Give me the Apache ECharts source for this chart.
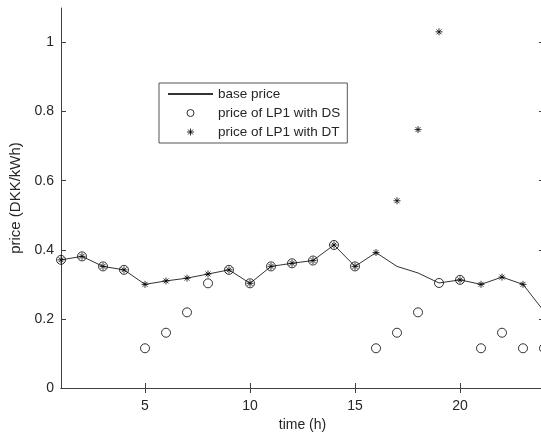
<!DOCTYPE html>
<html>
<head>
<meta charset="utf-8">
<script src="https://cdn.jsdelivr.net/npm/echarts@6/dist/echarts.min.js"></script>
<style>
  html, body { margin: 0; padding: 0; background: #fff; }
  #main { width: 541px; height: 434px; }
</style>
</head>
<body>
<div id="main"></div>
<script>
// hours 1..24
const hours = [1, 2, 3, 4, 5, 6, 7, 8, 9, 10, 11, 12, 13, 14, 15, 16, 17, 18, 19, 20, 21, 22, 23, 24];
const basePrice = [0.371, 0.381, 0.352, 0.342, 0.300, 0.310, 0.318, 0.330, 0.342, 0.303, 0.352, 0.361,
  0.369, 0.414, 0.352, 0.392, 0.352, 0.333, 0.304, 0.313, 0.300, 0.321, 0.300, 0.222];
const priceDS = [0.371, 0.381, 0.352, 0.342, 0.115, 0.160, 0.219, 0.303, 0.342, 0.303, 0.352, 0.361,
  0.369, 0.414, 0.352, 0.115, 0.160, 0.219, 0.304, 0.313, 0.115, 0.160, 0.115, 0.115];
const priceDT = [0.371, 0.381, 0.352, 0.342, 0.300, 0.310, 0.318, 0.330, 0.342, 0.303, 0.352, 0.361,
  0.369, 0.414, 0.352, 0.392, 0.542, 0.748, 1.031, 0.313, 0.300, 0.321, 0.300, null];
const xTicks = [5, 10, 15, 20];
const yTicks = [0, 0.2, 0.4, 0.6, 0.8, 1];
const legendNames = ["base price", "price of LP1 with DS", "price of LP1 with DT"];

const font = "'Liberation Sans', Arial, sans-serif";
const axisColor = "#404040";
const textColor = "#262626";
// matlab style '*' marker
const starPath = "path://M5,0L5,10M0,5L10,5M1.5,1.5L8.5,8.5M1.5,8.5L8.5,1.5";

function pairs(ys) {
  return hours.map((h, i) => [h, ys[i]]);
}

const chart = echarts.init(document.getElementById("main"), null, { renderer: "canvas" });

const boxAxis = {
  axisLine: { show: true, lineStyle: { color: axisColor, width: 1 } },
  axisTick: { show: true, inside: true, length: 5, lineStyle: { color: axisColor } },
  splitLine: { show: false },
};

const option = {
  animation: false,
  backgroundColor: "#fff",
  textStyle: { fontFamily: font },
  grid: { left: 61, top: 8, width: 483, bottom: 46, containLabel: false, outerBoundsMode: "none" },
  legend: {
    orient: "vertical",
    left: 159,
    top: 83,
    padding: [4, 7, 4, 8],
    itemGap: 5,
    itemWidth: 45,
    itemHeight: 7,
    borderColor: "#555",
    borderWidth: 1,
    backgroundColor: "#fff",
    selectedMode: false,
    textStyle: { color: textColor, fontSize: 13.5, lineHeight: 14, fontFamily: font },
    data: [
      { name: legendNames[0], itemStyle: { color: "rgba(0,0,0,0)", borderWidth: 0 } },
      { name: legendNames[1], itemStyle: { borderWidth: 1 } },
      { name: legendNames[2], itemStyle: { borderWidth: 1 } },
    ],
  },
  xAxis: [
    Object.assign({}, boxAxis, {
      type: "value",
      min: 1,
      max: 24,
      position: "bottom",
      name: "time (h)",
      nameLocation: "middle",
      nameGap: 30,
      nameTextStyle: { color: textColor, fontSize: 14, fontFamily: font },
      axisTick: Object.assign({}, boxAxis.axisTick, { customValues: xTicks }),
      axisLabel: { customValues: xTicks, color: textColor, fontSize: 14, margin: 11, fontFamily: font },
    }),
    Object.assign({}, boxAxis, {
      type: "value",
      min: 1,
      max: 24,
      position: "top",
      axisTick: Object.assign({}, boxAxis.axisTick, { customValues: xTicks }),
      axisLabel: { show: false },
    }),
  ],
  yAxis: [
    Object.assign({}, boxAxis, {
      type: "value",
      min: 0,
      max: 1.1,
      position: "left",
      name: "price (DKK/kWh)",
      nameLocation: "middle",
      nameGap: 28,
      nameTextStyle: { color: textColor, fontSize: 15, fontFamily: font },
      axisTick: Object.assign({}, boxAxis.axisTick, { customValues: yTicks }),
      axisLabel: {
        customValues: yTicks,
        color: textColor,
        fontSize: 14,
        margin: 7,
        fontFamily: font,
        formatter: (v) => String(+(+v).toFixed(1)),
      },
    }),
    Object.assign({}, boxAxis, {
      type: "value",
      min: 0,
      max: 1.1,
      position: "right",
      axisTick: Object.assign({}, boxAxis.axisTick, { customValues: yTicks }),
      axisLabel: { show: false },
    }),
  ],
  series: [
    {
      name: legendNames[0],
      type: "line",
      data: pairs(basePrice),
      symbol: "none",
      lineStyle: { color: "#333", width: 1 },
      itemStyle: { color: "#333" },
      z: 2,
    },
    {
      name: legendNames[1],
      type: "scatter",
      data: pairs(priceDS),
      symbol: "circle",
      symbolSize: 9,
      itemStyle: { color: "rgba(0,0,0,0)", borderColor: "#000", borderWidth: 1 },
      z: 3,
    },
    {
      name: legendNames[2],
      type: "scatter",
      data: pairs(priceDT),
      symbol: starPath,
      symbolSize: 7,
      itemStyle: { color: "rgba(0,0,0,0)", borderColor: "#000", borderWidth: 1 },
      z: 4,
    },
  ],
};

chart.setOption(option);
</script>
</body>
</html>
